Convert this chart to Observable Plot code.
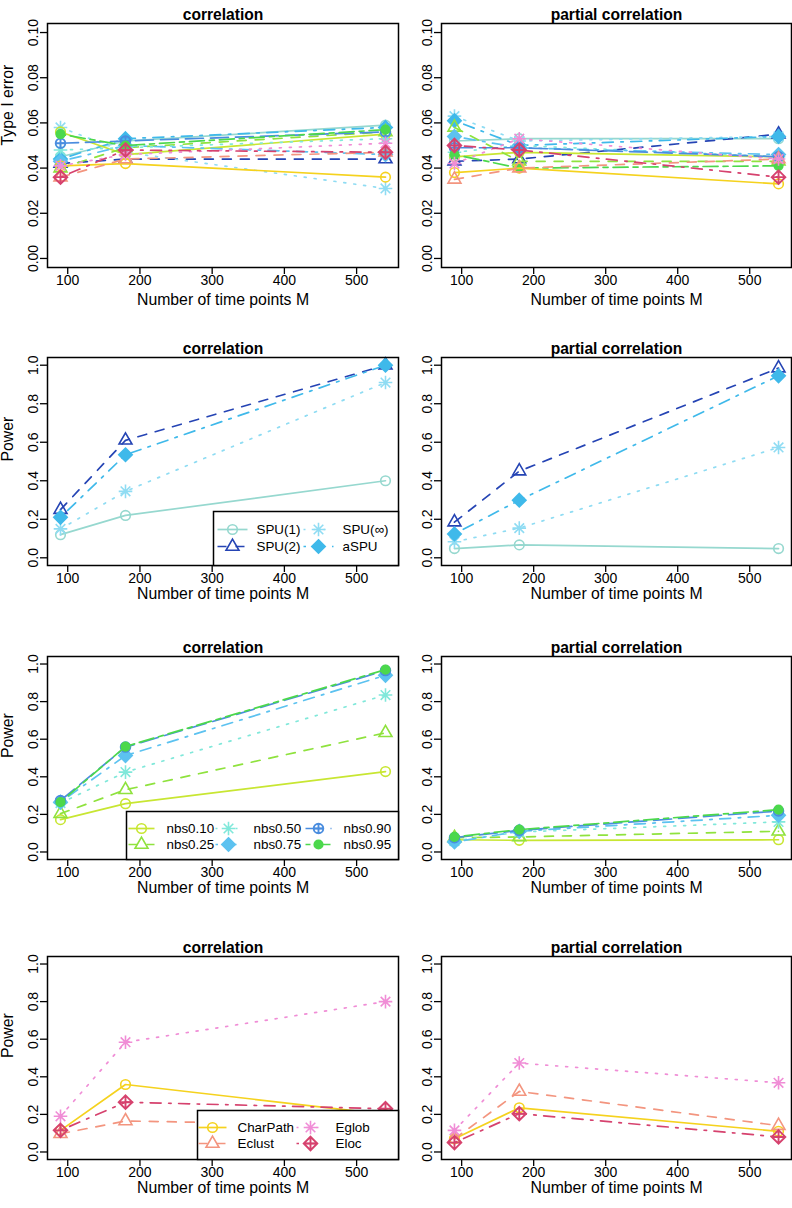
<!DOCTYPE html>
<html><head><meta charset="utf-8">
<script src="https://cdn.jsdelivr.net/npm/d3@7"></script>
<script src="https://cdn.jsdelivr.net/npm/@observablehq/plot@0.6"></script>
<style>
body{margin:0;background:#fff;}
#chart{position:relative;width:792px;height:1208px;overflow:hidden;background:#fff;}
</style></head><body><div id="chart"></div>
<script>
// ---------------- data ----------------
const timePoints = [90, 180, 540];
const xTicks = [100, 200, 300, 400, 500];
const typeITicks = [0, 0.02, 0.04, 0.06, 0.08, 0.10];
const powerTicks = [0, 0.2, 0.4, 0.6, 0.8, 1.0];

const spuMethods = ["SPU(1)", "SPU(2)", "SPU(∞)", "aSPU"];
const nbsMethods = ["nbs0.10", "nbs0.25", "nbs0.50", "nbs0.75", "nbs0.90", "nbs0.95"];
const graphMethods = ["CharPath", "Eclust", "Eglob", "Eloc"];
const allMethods = [...spuMethods, ...nbsMethods, ...graphMethods];

// Type I error, rows follow allMethods, columns follow timePoints
const typeIErrorCorrelation = [
  [0.045, 0.052, 0.059],
  [0.042, 0.044, 0.044],
  [0.058, 0.047, 0.031],
  [0.044, 0.053, 0.058],
  [0.056, 0.046, 0.055],
  [0.040, 0.049, 0.056],
  [0.048, 0.049, 0.053],
  [0.043, 0.050, 0.046],
  [0.051, 0.052, 0.056],
  [0.055, 0.050, 0.057],
  [0.041, 0.042, 0.036],
  [0.036, 0.044, 0.047],
  [0.041, 0.046, 0.051],
  [0.036, 0.048, 0.047]
];
const typeIErrorPartial = [
  [0.052, 0.053, 0.053],
  [0.043, 0.044, 0.055],
  [0.063, 0.052, 0.054],
  [0.061, 0.050, 0.054],
  [0.045, 0.047, 0.045],
  [0.058, 0.043, 0.043],
  [0.047, 0.050, 0.045],
  [0.054, 0.049, 0.046],
  [0.049, 0.049, 0.045],
  [0.046, 0.040, 0.041],
  [0.038, 0.040, 0.033],
  [0.035, 0.040, 0.044],
  [0.042, 0.053, 0.044],
  [0.050, 0.048, 0.036]
];
const powerSpuCorrelation = [
  [0.12, 0.22, 0.40],
  [0.25, 0.61, 1.00],
  [0.15, 0.345, 0.91],
  [0.21, 0.535, 1.00]
];
const powerSpuPartial = [
  [0.048, 0.067, 0.048],
  [0.185, 0.45, 0.985],
  [0.083, 0.154, 0.573],
  [0.124, 0.299, 0.945]
];
const powerNbsCorrelation = [
  [0.172, 0.257, 0.428],
  [0.204, 0.331, 0.634],
  [0.26, 0.425, 0.835],
  [0.265, 0.513, 0.94],
  [0.274, 0.558, 0.965],
  [0.265, 0.561, 0.97]
];
const powerNbsPartial = [
  [0.065, 0.062, 0.065],
  [0.076, 0.08, 0.11],
  [0.058, 0.106, 0.16],
  [0.053, 0.11, 0.195],
  [0.076, 0.115, 0.218],
  [0.08, 0.119, 0.225]
];
const powerGraphCorrelation = [
  [0.115, 0.359, 0.20],
  [0.097, 0.165, 0.14],
  [0.19, 0.584, 0.80],
  [0.115, 0.265, 0.23]
];
const powerGraphPartial = [
  [0.07, 0.235, 0.11],
  [0.07, 0.322, 0.14],
  [0.115, 0.473, 0.368],
  [0.05, 0.204, 0.08]
];

// ---------------- styles ----------------
const methodColors = {
  "SPU(1)": "#96d8cf", "SPU(2)": "#2544b4", "SPU(∞)": "#8fdcf3", "aSPU": "#3fb9ea",
  "nbs0.10": "#c8e632", "nbs0.25": "#8fe23e", "nbs0.50": "#80e8da", "nbs0.75": "#5cc2f0",
  "nbs0.90": "#4a8ddf", "nbs0.95": "#4cd84c",
  "CharPath": "#f5d21e", "Eclust": "#f3957f", "Eglob": "#f08dd6", "Eloc": "#d6426e"
};
const methodLty = {
  "SPU(1)": "solid", "SPU(2)": "dashed", "SPU(∞)": "dotted", "aSPU": "dotdash",
  "nbs0.10": "solid", "nbs0.25": "dashed", "nbs0.50": "dotted", "nbs0.75": "dotdash",
  "nbs0.90": "longdash", "nbs0.95": "twodash",
  "CharPath": "solid", "Eclust": "dashed", "Eglob": "dotted", "Eloc": "dotdash"
};
const methodPch = {
  "SPU(1)": "circle", "SPU(2)": "triangle", "SPU(∞)": "asterisk", "aSPU": "diamondFilled",
  "nbs0.10": "circle", "nbs0.25": "triangle", "nbs0.50": "asterisk", "nbs0.75": "diamondFilled",
  "nbs0.90": "circlePlus", "nbs0.95": "circleFilled",
  "CharPath": "circle", "Eclust": "triangle", "Eglob": "asterisk", "Eloc": "diamondPlus"
};
const dashes = {
  solid: null, dashed: "9,9", dotted: "2,8", dotdash: "2.5,7.5,11,7.5",
  longdash: "18,7", twodash: "5,5,15,5"
};
const FONT = "'Liberation Sans', Arial, Helvetica, sans-serif";

const R = Math.SQRT2;
const rad = s => Math.sqrt(s / Math.PI);
const symbols = {
  circle: {draw(c, s) { const r = rad(s); c.moveTo(r, 0); c.arc(0, 0, r, 0, 2 * Math.PI); }},
  circleFilled: {draw(c, s) { const r = rad(s); c.moveTo(r, 0); c.arc(0, 0, r, 0, 2 * Math.PI); }},
  triangle: {draw(c, s) { const r = rad(s); c.moveTo(0, -1.555 * r); c.lineTo(1.347 * r, 0.778 * r); c.lineTo(-1.347 * r, 0.778 * r); c.closePath(); }},
  asterisk: {draw(c, s) { const r = rad(s); c.moveTo(-r, -r); c.lineTo(r, r); c.moveTo(-r, r); c.lineTo(r, -r);
    const q = R * r; c.moveTo(-q, 0); c.lineTo(q, 0); c.moveTo(0, -q); c.lineTo(0, q); }},
  diamondFilled: {draw(c, s) { const r = rad(s) * 1.4; c.moveTo(0, -r); c.lineTo(r, 0); c.lineTo(0, r); c.lineTo(-r, 0); c.closePath(); }},
  circlePlus: {draw(c, s) { const r = rad(s); c.moveTo(r, 0); c.arc(0, 0, r, 0, 2 * Math.PI);
    c.moveTo(-r, 0); c.lineTo(r, 0); c.moveTo(0, -r); c.lineTo(0, r); }},
  diamondPlus: {draw(c, s) { const r = rad(s) * R; c.moveTo(0, -r); c.lineTo(r, 0); c.lineTo(0, r); c.lineTo(-r, 0); c.closePath();
    c.moveTo(-r, 0); c.lineTo(r, 0); c.moveTo(0, -r); c.lineTo(0, r); }}
};
function dotOptions(method) {
  const pch = methodPch[method], col = methodColors[method];
  const filled = pch === "diamondFilled" || pch === "circleFilled";
  return {
    symbol: symbols[pch], r: pch === "circleFilled" ? 4.3 : 4.8,
    stroke: col, fill: filled ? col : "none",
    strokeWidth: pch === "diamondPlus" || pch === "circlePlus" ? 1.9 : 1.6
  };
}
function lineOptions(method) {
  return {stroke: methodColors[method], strokeWidth: 1.7, strokeDasharray: dashes[methodLty[method]]};
}

// ---------------- layout ----------------
const chart = document.getElementById("chart");
const columns = [
  {left: 0, width: 402, marginLeft: 47, marginRight: 4},
  {left: 396, width: 396, marginLeft: 45, marginRight: 1}
];
const rows = [
  {frameTop: 23, frameBottom: 267, domain: [-0.004, 0.104], ticks: typeITicks, fmt: d3.format(".2f"), ylabel: "Type I error", labelDy: 37},
  {frameTop: 357, frameBottom: 565, domain: [-0.04, 1.04], ticks: powerTicks, fmt: d3.format(".1f"), ylabel: "Power", labelDy: 33},
  {frameTop: 656, frameBottom: 859, domain: [-0.04, 1.04], ticks: powerTicks, fmt: d3.format(".1f"), ylabel: "Power", labelDy: 33},
  {frameTop: 956, frameBottom: 1159, domain: [-0.04, 1.04], ticks: powerTicks, fmt: d3.format(".1f"), ylabel: "Power", labelDy: 33}
];
const MT = 30, MB = 50;

function place(el, left, top) {
  el.style.position = "absolute";
  el.style.left = left + "px";
  el.style.top = top + "px";
  chart.appendChild(el);
}

function panel(rowIdx, colIdx, methods, values, title) {
  const row = rows[rowIdx], col = columns[colIdx];
  const marks = [];
  methods.forEach((m, i) => {
    const pts = timePoints.map((t, j) => ({M: t, value: values[i][j]}));
    marks.push(Plot.line(pts, {x: "M", y: "value", ...lineOptions(m)}));
    marks.push(Plot.dot(pts, {x: "M", y: "value", ...dotOptions(m)}));
  });
  marks.push(Plot.frame({stroke: "black", strokeWidth: 1.5}));
  marks.push(Plot.axisX({ticks: xTicks, tickSize: 7, tickPadding: 1, strokeWidth: 1.3, tickFormat: d => String(d), label: null, fontSize: 14}));
  marks.push(Plot.axisY({ticks: row.ticks, tickSize: 7, tickRotate: -90, strokeWidth: 1.3, tickFormat: row.fmt, label: null, fontSize: 14}));
  marks.push(Plot.text([title], {text: d => d, frameAnchor: "top", dy: -15, fontWeight: "bold", fontSize: 15.6}));
  marks.push(Plot.text(["Number of time points M"], {text: d => d, frameAnchor: "bottom", dy: row.labelDy, fontSize: 15.8}));
  if (colIdx === 0) {
    marks.push(Plot.text([row.ylabel], {text: d => d, frameAnchor: "left", dx: -40, rotate: -90, fontSize: 15.8}));
  }
  const svg = Plot.plot({
    width: col.width,
    height: row.frameBottom - row.frameTop + MT + MB,
    marginLeft: col.marginLeft, marginRight: col.marginRight, marginTop: MT, marginBottom: MB,
    x: {domain: [72, 558]},
    y: {domain: row.domain},
    style: {background: "transparent", overflow: "visible", fontFamily: FONT, fontSize: "14px", color: "black"},
    marks
  });
  place(svg, col.left, row.frameTop - MT);
}

function legend(methods, box) {
  const items = methods.map((m, i) => ({
    m, px: box.colX[Math.floor(i / 2)], py: box.rowY[i % 2]
  }));
  const marks = [Plot.frame({fill: "white", stroke: "black", strokeWidth: 1.5})];
  items.forEach(d => {
    marks.push(Plot.link([d], {x1: e => e.px - box.half, x2: e => e.px + box.half, y1: "py", y2: "py", ...lineOptions(d.m)}));
    marks.push(Plot.dot([d], {x: "px", y: "py", ...dotOptions(d.m)}));
  });
  marks.push(Plot.text(items, {x: d => d.px + box.textGap, y: "py", text: "m", textAnchor: "start", fontSize: 13.4}));
  const svg = Plot.plot({
    width: box.width, height: box.height, margin: 0,
    axis: null,
    x: {type: "identity", axis: null}, y: {type: "identity", axis: null},
    style: {background: "transparent", overflow: "visible", fontFamily: FONT, fontSize: "13.4px", color: "black"},
    marks
  });
  place(svg, box.left, box.top);
}

// Row 1: Type I error (all methods)
panel(0, 0, allMethods, typeIErrorCorrelation, "correlation");
panel(0, 1, allMethods, typeIErrorPartial, "partial correlation");
// Row 2: SPU family
panel(1, 0, spuMethods, powerSpuCorrelation, "correlation");
panel(1, 1, spuMethods, powerSpuPartial, "partial correlation");
legend(spuMethods, {left: 213, top: 511, width: 185, height: 54, colX: [19, 105], rowY: [18, 35], half: 15, textGap: 24});
// Row 3: NBS family
panel(2, 0, nbsMethods, powerNbsCorrelation, "correlation");
panel(2, 1, nbsMethods, powerNbsPartial, "partial correlation");
legend(nbsMethods, {left: 126, top: 811, width: 272, height: 48, colX: [15, 102, 192], rowY: [17, 33], half: 13, textGap: 25});
// Row 4: graph metrics
panel(3, 0, graphMethods, powerGraphCorrelation, "correlation");
panel(3, 1, graphMethods, powerGraphPartial, "partial correlation");
legend(graphMethods, {left: 197, top: 1110, width: 201, height: 49, colX: [15, 113], rowY: [17, 33], half: 14, textGap: 25});
</script>
</body></html>
